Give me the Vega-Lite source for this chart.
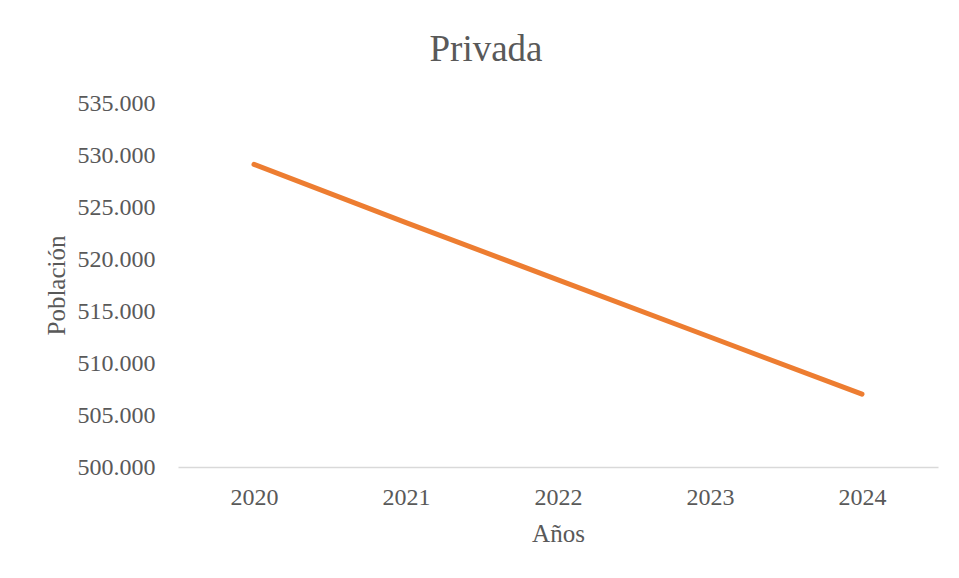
{
  "$schema": "https://vega.github.io/schema/vega-lite/v6.json",
  "autosize": {"type": "none"},
  "width": 760,
  "height": 364,
  "padding": {"left": 178, "top": 103, "right": 21, "bottom": 111},
  "background": "white",
  "config": {
    "view": {"stroke": null},
    "font": "Liberation Serif",
    "locale": {"number": {"decimal": ",", "thousands": ".", "grouping": [3], "currency": ["", " €"]}}
  },
  "title": {
    "text": "Privada",
    "fontSize": 37,
    "font": "Liberation Serif",
    "fontWeight": "normal",
    "color": "#595959",
    "anchor": "middle",
    "dx": -72,
    "offset": 22
  },
  "data": {
    "values": [
      {"year": "2020", "pop": 529100},
      {"year": "2021", "pop": 523500},
      {"year": "2022", "pop": 518000},
      {"year": "2023", "pop": 512500},
      {"year": "2024", "pop": 507000}
    ]
  },
  "mark": {"type": "line", "color": "#ED7D31", "strokeWidth": 5, "strokeCap": "round", "strokeJoin": "round"},
  "encoding": {
    "x": {
      "field": "year",
      "type": "ordinal",
      "scale": {"type": "point", "padding": 0.5},
      "axis": {
        "title": "Años",
        "labelAngle": 0,
        "ticks": false,
        "grid": false,
        "domainColor": "#D9D9D9",
        "domainWidth": 1.5,
        "labelFont": "Liberation Serif",
        "labelFontSize": 24,
        "labelColor": "#595959",
        "labelPadding": 18,
        "titleFont": "Liberation Serif",
        "titleFontSize": 25,
        "titleFontWeight": "normal",
        "titleColor": "#595959",
        "titlePadding": 12
      }
    },
    "y": {
      "field": "pop",
      "type": "quantitative",
      "scale": {"domain": [500000, 535000], "zero": false, "nice": false},
      "axis": {
        "title": "Población",
        "values": [500000, 505000, 510000, 515000, 520000, 525000, 530000, 535000],
        "format": ",d",
        "domain": false,
        "ticks": false,
        "grid": false,
        "labelFont": "Liberation Serif",
        "labelFontSize": 24,
        "labelColor": "#595959",
        "labelPadding": 23,
        "titleFont": "Liberation Serif",
        "titleFontSize": 25,
        "titleFontWeight": "normal",
        "titleColor": "#595959",
        "titlePadding": 8
      }
    }
  }
}
